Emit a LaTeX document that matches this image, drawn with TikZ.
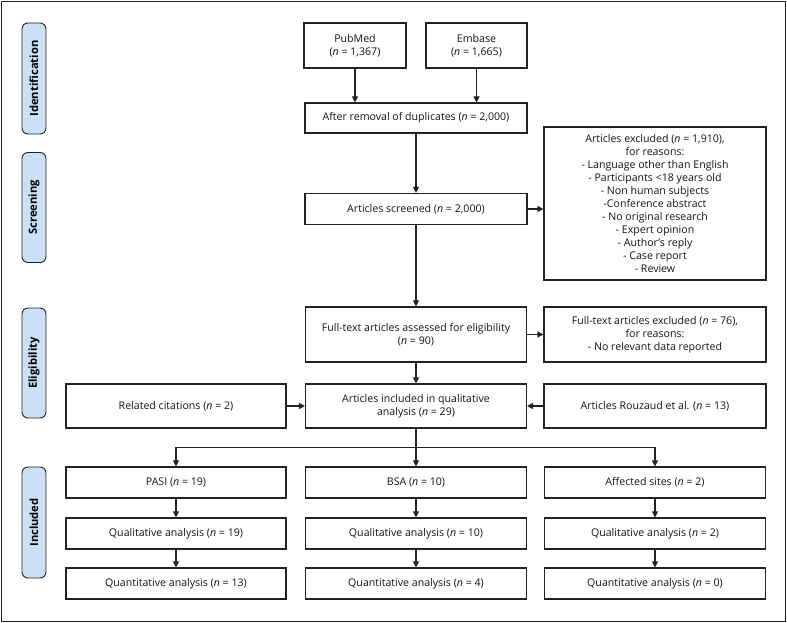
\documentclass[tikz,border=0pt]{standalone}
\usepackage{fontspec}
\setmainfont{Open Sans}
\usetikzlibrary{arrows.meta,calc}
\definecolor{phasefill}{HTML}{CBE0F5}
\definecolor{edge}{HTML}{222222}
\tikzset{
  box/.style={draw=edge, line width=1.1pt, fill=white, inner sep=2pt, align=center, font=\fontsize{10.6}{13}\selectfont, text=black!92},
  phase/.style={draw=edge, line width=0.9pt, fill=phasefill, rounded corners=6pt, inner sep=0pt, minimum height=24pt, rotate=90, font=\bfseries\fontsize{11.2}{12}\selectfont},
  arr/.style={draw=edge, line width=1.1pt, -{Triangle[length=6pt,width=6pt]}},
  ln/.style={draw=edge, line width=1.1pt}
}
\begin{document}
\begin{tikzpicture}[x=1pt,y=-1pt]
\useasboundingbox (0,0) rectangle (787,623);
\draw[edge, line width=1.4pt] (1.5,1.5) rectangle (785.5,621.5);
% phases
\node[phase, minimum width=111pt] (p1) at (34,78.5) {Identification};
\node[phase, minimum width=110pt] (p2) at (34,207.5) {Screening};
\node[phase, minimum width=110pt] (p3) at (34,363) {Eligibility};
\node[phase, minimum width=111pt] (p4) at (34,522.5) {Included};
% boxes
\node[box, minimum width=102pt, minimum height=45pt] (pub) at (355,45.5) {PubMed\\(\textit{n} = 1,367)};
\node[box, minimum width=101pt, minimum height=45pt] (emb) at (476.5,45.5) {Embase\\(\textit{n} = 1,665)};
\node[box, minimum width=222pt, minimum height=30pt] (dup) at (416,118) {After removal of duplicates (\textit{n} = 2,000)};
\node[box, minimum width=222pt, minimum height=31pt] (scr) at (416,209) {Articles screened (\textit{n} = 2,000)};
\node[box, minimum width=222pt, minimum height=153pt] (exc) at (655,203.5) {Articles excluded (\textit{n} = 1,910),\\for reasons:\\- Language other than English\\- Participants <18 years old\\- Non human subjects\\-Conference abstract\\- No original research\\- Expert opinion\\- Author’s reply\\- Case report\\- Review};
\node[box, minimum width=221pt, minimum height=55pt] (ft) at (416,334.5) {Full-text articles assessed for eligibility\\(\textit{n} = 90)};
\node[box, minimum width=222pt, minimum height=55pt] (fte) at (655,334.5) {Full-text articles excluded (\textit{n} = 76),\\for reasons:\\- No relevant data reported};
\node[box, minimum width=221pt, minimum height=44pt] (inc) at (416,406) {Articles included in qualitative\\analysis (\textit{n} = 29)};
\node[box, minimum width=220pt, minimum height=44pt] (rel) at (176,406) {Related citations (\textit{n} = 2)};
\node[box, minimum width=222pt, minimum height=44pt] (rou) at (655,406) {Articles Rouzaud et al. (\textit{n} = 13)};
% bottom rows
\node[box, minimum width=220pt, minimum height=31pt] (pasi) at (176,482.5) {PASI (\textit{n} = 19)};
\node[box, minimum width=221pt, minimum height=31pt] (bsa) at (416,482.5) {BSA (\textit{n} = 10)};
\node[box, minimum width=221pt, minimum height=31pt] (aff) at (655,482.5) {Affected sites (\textit{n} = 2)};
\node[box, minimum width=220pt, minimum height=31pt] (ql1) at (176,533.5) {Qualitative analysis (\textit{n} = 19)};
\node[box, minimum width=221pt, minimum height=31pt] (ql2) at (416,533.5) {Qualitative analysis (\textit{n} = 10)};
\node[box, minimum width=221pt, minimum height=31pt] (ql3) at (655,533.5) {Qualitative analysis (\textit{n} = 2)};
\node[box, minimum width=220pt, minimum height=31pt] (qn1) at (176,583.5) {Quantitative analysis (\textit{n} = 13)};
\node[box, minimum width=221pt, minimum height=31pt] (qn2) at (416,583.5) {Quantitative analysis (\textit{n} = 4)};
\node[box, minimum width=221pt, minimum height=31pt] (qn3) at (655,583.5) {Quantitative analysis (\textit{n} = 0)};
% connectors
\draw[arr] (pub.south) -- (pub.south |- dup.north);
\draw[arr] (emb.south) -- (emb.south |- dup.north);
\draw[arr] (dup) -- (scr);
\draw[arr] (scr.east) -- (scr.east -| exc.west);
\draw[arr] (scr) -- (ft);
\draw[arr] (ft.east) -- (ft.east -| fte.west);
\draw[arr] (ft) -- (inc);
\draw[arr] (rel) -- (inc);
\draw[arr] (rou) -- (inc);
\coordinate (br) at ($(inc.south)!0.5!(bsa.north)$);
\draw[ln] (inc.south) -- (br);
\draw[arr] (br) -- (bsa);
\draw[arr] (br) -| (pasi.north);
\draw[arr] (br) -| (aff.north);
\draw[arr] (pasi) -- (ql1);
\draw[arr] (bsa) -- (ql2);
\draw[arr] (aff) -- (ql3);
\draw[arr] (ql1) -- (qn1);
\draw[arr] (ql2) -- (qn2);
\draw[arr] (ql3) -- (qn3);
\end{tikzpicture}
\end{document}
